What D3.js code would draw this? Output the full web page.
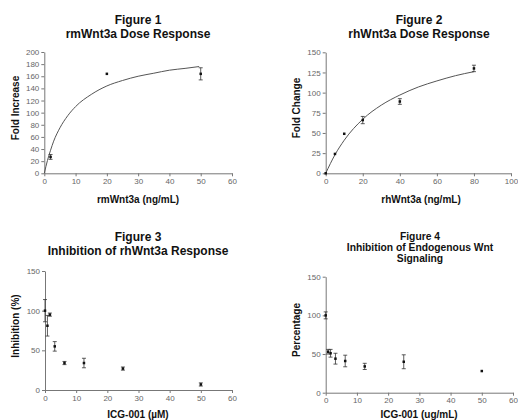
<!DOCTYPE html>
<html><head><meta charset="utf-8">
<script src="https://cdn.jsdelivr.net/npm/d3@7"></script>
<style>
body{margin:0;background:#fff;}
svg{display:block;font-family:"Liberation Sans",Arial,sans-serif;}
.tick text{fill:#666;font-size:8px;}
.domain,.tick line{stroke:#777;}
</style></head><body>
<svg id="c" width="518" height="420"></svg>
<script>
// Figure 1 data
const f1X = [2, 20, 50];
const f1Y = [27, 164, 164];
const f1Err = [4, 1, 10];
const f1CurveX = [0, 1, 2, 3, 5, 7.5, 10, 15, 20, 25, 30, 35, 40, 45, 49.5];
const f1CurveY = [0, 21, 38, 53, 75, 95, 110, 130, 144, 153, 160, 165, 170, 173, 176];
// Figure 2 data
const f2X = [0, 5, 10, 20, 40, 80];
const f2Y = [0, 24, 49, 66, 89, 130];
const f2Err = [1, 1, 0.5, 4.5, 3.5, 4];
const f2CurveX = [0, 5, 10, 20, 30, 40, 50, 60, 70, 80];
const f2CurveY = [0, 23, 41, 67, 84.5, 97, 107, 114.5, 121, 126];
// Figure 3 data
const f3X = [0, 0.78, 1.56, 3.125, 6.25, 12.5, 25, 50];
const f3Y = [100, 81, 95, 55, 34, 34, 27, 7];
const f3Err = [14, 13, 2, 6, 2, 6, 2, 2];
// Figure 4 data
const f4X = [0, 0.78, 1.56, 3.125, 6.25, 12.5, 25, 50];
const f4Y = [100, 53, 51, 44, 41, 34, 40, 28];
const f4Err = [4.5, 3, 5, 7, 7.5, 4, 9, 1];

const svg = d3.select("#c");

function panel(o){
  const x = d3.scaleLinear().domain(o.xd).range(o.xr);
  const y = d3.scaleLinear().domain(o.yd).range(o.yr);
  const g = svg.append("g");
  g.append("g").attr("transform",`translate(0,${o.yr[0]})`)
    .call(d3.axisBottom(x).tickValues(o.xt).tickSize(3).tickPadding(2).tickSizeOuter(0));
  g.append("g").attr("transform",`translate(${o.xr[0]},0)`)
    .call(d3.axisLeft(y).tickValues(o.yt).tickSize(3).tickPadding(2).tickSizeOuter(0));
  if(o.cx){
    const pts = o.cx.map((v,i)=>[v,o.cy[i]]);
    g.append("path").datum(pts)
      .attr("d", d3.line().x(d=>x(d[0])).y(d=>y(d[1])).curve(d3.curveMonotoneX))
      .attr("fill","none").attr("stroke","#555").attr("stroke-width",1);
  }
  const data = o.px.map((v,i)=>({x:v,y:o.py[i],e:o.pe[i]}));
  const eb = g.append("g").attr("stroke","#333").attr("stroke-width",0.8);
  data.forEach(d=>{
    if(d.e>1.2){
      eb.append("line").attr("x1",x(d.x)).attr("x2",x(d.x)).attr("y1",y(d.y-d.e)).attr("y2",y(d.y+d.e));
      [d.y-d.e,d.y+d.e].forEach(v=>eb.append("line").attr("x1",x(d.x)-2).attr("x2",x(d.x)+2).attr("y1",y(v)).attr("y2",y(v)));
    }
  });
  g.selectAll("rect.m").data(data).enter().append("rect")
    .attr("x",d=>x(d.x)-1.25).attr("y",d=>y(d.y)-1.25).attr("width",2.5).attr("height",2.5).attr("fill","#111");
  o.title.forEach((t,i)=>g.append("text").attr("x",o.tx).attr("y",o.ty+i*o.tl)
    .attr("text-anchor","middle").attr("font-weight","bold").attr("font-size",o.tfs).attr("fill","#111").text(t));
  g.append("text").attr("x",o.xlx).attr("y",o.xly).attr("text-anchor","middle")
    .attr("font-weight","bold").attr("font-size",10).attr("fill","#111").text(o.xl);
  g.append("text").attr("transform",`translate(${o.ylx},${o.yly}) rotate(-90)`).attr("text-anchor","middle")
    .attr("font-weight","bold").attr("font-size",10).attr("fill","#111").text(o.yl);
}

panel({xd:[0,60],xr:[44.3,232],yd:[0,200],yr:[173.3,52],xt:d3.range(0,61,10),yt:d3.range(0,201,20),
  cx:f1CurveX,cy:f1CurveY,px:f1X,py:f1Y,pe:f1Err,
  title:["Figure 1","rmWnt3a Dose Response"],tx:138,ty:24,tl:13.5,tfs:12,
  xl:"rmWnt3a (ng/mL)",xlx:138,xly:203,yl:"Fold Increase",ylx:19,yly:108});
panel({xd:[0,100],xr:[325.7,511],yd:[0,150],yr:[173.3,52.3],xt:d3.range(0,101,20),yt:d3.range(0,151,25),
  cx:f2CurveX,cy:f2CurveY,px:f2X,py:f2Y,pe:f2Err,
  title:["Figure 2","rhWnt3a Dose Response"],tx:419,ty:24,tl:13.5,tfs:12,
  xl:"rhWnt3a (ng/mL)",xlx:421,xly:203,yl:"Fold Change",ylx:300,yly:108});
panel({xd:[0,60],xr:[45,232],yd:[0,150],yr:[390,271],xt:d3.range(0,61,10),yt:d3.range(0,151,50),
  px:f3X,py:f3Y,pe:f3Err,
  title:["Figure 3","Inhibition of rhWnt3a Response"],tx:138,ty:241,tl:14,tfs:12,
  xl:"ICG-001 (\u00b5M)",xlx:138,xly:418,yl:"Inhibition (%)",ylx:19,yly:326});
panel({xd:[0,60],xr:[325.7,513],yd:[0,150],yr:[392.7,276.7],xt:d3.range(0,61,10),yt:d3.range(0,151,50),
  px:f4X,py:f4Y,pe:f4Err,
  title:["Figure 4","Inhibition of Endogenous Wnt","Signaling"],tx:420,ty:239.5,tl:11.3,tfs:10.3,
  xl:"ICG-001 (ug/mL)",xlx:419,xly:417.5,yl:"Percentage",ylx:300,yly:330});
</script></body></html>
